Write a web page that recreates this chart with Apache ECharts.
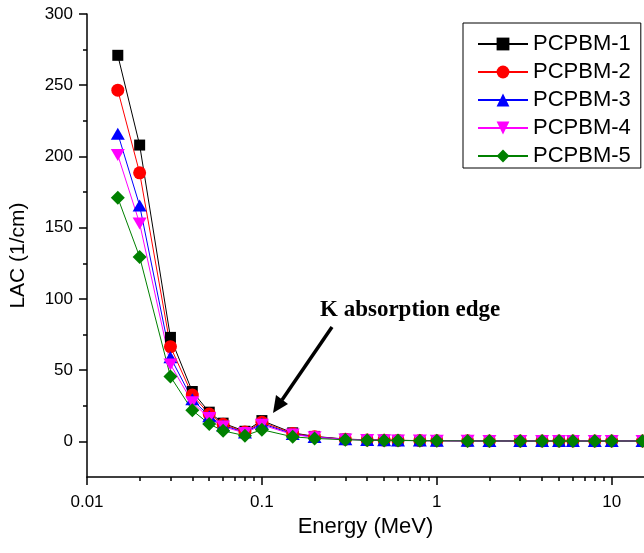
<!DOCTYPE html>
<html>
<head>
<meta charset="utf-8">
<script src="https://cdn.jsdelivr.net/npm/echarts@6/dist/echarts.min.js"></script>
<style>
  html, body { margin: 0; padding: 0; background: #fff; }
  #chart-wrapper { width: 644px; height: 553px; }
</style>
</head>
<body>
<div id="chart-wrapper"></div>
<script>
// photon energies (MeV)
const energies = [0.015, 0.02, 0.03, 0.04, 0.05, 0.06, 0.08, 0.1, 0.15, 0.2, 0.3, 0.4,
  0.5, 0.6, 0.8, 1, 1.5, 2, 3, 4, 5, 6, 8, 10, 15];

// linear attenuation coefficients (1/cm)
const pcpbm1 = [271, 208, 73, 35, 20.5, 12.8, 7.1, 14.6, 6.0, 3.5, 1.6, 1.1, 0.85, 0.72,
  0.58, 0.5, 0.4, 0.35, 0.3, 0.28, 0.27, 0.27, 0.27, 0.28, 0.3];
const pcpbm2 = [246.5, 188.5, 66.5, 32.5, 19.2, 12.0, 6.6, 13.5, 5.6, 3.3, 1.5, 1.05, 0.82,
  0.7, 0.56, 0.49, 0.39, 0.34, 0.29, 0.27, 0.26, 0.26, 0.26, 0.27, 0.29];
const pcpbm3 = [216, 165.5, 59, 29.5, 17.6, 11.2, 6.2, 12.5, 5.2, 3.1, 1.45, 1.0, 0.8, 0.68,
  0.55, 0.48, 0.38, 0.33, 0.28, 0.26, 0.25, 0.25, 0.25, 0.26, 0.28];
const pcpbm4 = [201, 153, 54, 27.5, 16.4, 10.4, 5.8, 11.6, 4.8, 2.9, 1.4, 0.97, 0.78, 0.66,
  0.54, 0.47, 0.37, 0.32, 0.27, 0.25, 0.24, 0.24, 0.24, 0.25, 0.27];
const pcpbm5 = [171, 129.5, 45.5, 21.8, 12.2, 7.4, 4.0, 8.2, 3.2, 2.1, 1.1, 0.85, 0.7, 0.6,
  0.5, 0.44, 0.35, 0.3, 0.26, 0.24, 0.23, 0.23, 0.23, 0.24, 0.26];

const seriesNames = ["PCPBM-1", "PCPBM-2", "PCPBM-3", "PCPBM-4", "PCPBM-5"];

// tick labels
const xMajorTicks = [0.01, 0.1, 1, 10];
const xMinorTicks = [0.02, 0.03, 0.04, 0.05, 0.06, 0.07, 0.08, 0.09,
  0.2, 0.3, 0.4, 0.5, 0.6, 0.7, 0.8, 0.9, 2, 3, 4, 5, 6, 7, 8, 9];
const yMajorTicks = [0, 50, 100, 150, 200, 250, 300];
const yMinorTicks = [25, 75, 125, 175, 225, 275];

const colorList = ["#000000", "#ff0000", "#0000ff", "#ff00ff", "#008000"];
const symbols = [
  { symbol: "rect", size: 11, rotate: 0 },
  { symbol: "circle", size: 13, rotate: 0 },
  { symbol: "triangle", size: [14, 12], rotate: 0 },
  { symbol: "triangle", size: [14, 12], rotate: 180 },
  { symbol: "diamond", size: [14, 14], rotate: 0 },
];

const chartDom = document.getElementById("chart-wrapper");
const chart = echarts.init(chartDom, null, { renderer: "canvas" });

const font = "Liberation Sans, Arial, sans-serif";
const allValues = [pcpbm1, pcpbm2, pcpbm3, pcpbm4, pcpbm5];

const seriesData = allValues.map((vals, i) => {
  return {
    name: seriesNames[i],
    type: "line",
    xAxisIndex: 0,
    yAxisIndex: 0,
    data: energies.map((e, k) => [e, vals[k]]),
    symbol: symbols[i].symbol,
    symbolSize: symbols[i].size,
    symbolRotate: symbols[i].rotate,
    showAllSymbol: true,
    clip: false,
    color: colorList[i],
    lineStyle: { width: 1, color: colorList[i] },
    itemStyle: { color: colorList[i] },
    emphasis: { disabled: true },
    animation: false,
  };
});

const axisLine = { show: true, onZero: false, lineStyle: { color: "#000", width: 1.5 } };

const option = {
  backgroundColor: "#fff",
  animation: false,
  grid: { left: 86, top: 14, right: 0, height: 463, containLabel: false },
  legend: {
    orient: "vertical",
    left: 463,
    top: 23,
    data: seriesNames,
    itemWidth: 50,
    itemHeight: 16,
    itemGap: 6,
    padding: [10, 10, 1, 14],
    borderColor: "#000",
    borderWidth: 1,
    backgroundColor: "#fff",
    selectedMode: false,
    textStyle: { fontFamily: font, fontSize: 22, color: "#000", lineHeight: 22 },
  },
  xAxis: [
    {
      type: "log",
      logBase: 10,
      min: 0.01,
      max: 15.3,
      name: "Energy (MeV)",
      nameLocation: "middle",
      nameGap: 34,
      nameTextStyle: { fontFamily: font, fontSize: 22, color: "#000" },
      axisLine: axisLine,
      axisTick: { show: true, inside: false, length: 8, customValues: xMajorTicks,
        lineStyle: { color: "#000", width: 1.5 } },
      axisLabel: { customValues: xMajorTicks, margin: 17, fontFamily: font, fontSize: 17,
        color: "#000", formatter: (v) => String(v) },
      splitLine: { show: false },
    },
    {
      type: "log",
      logBase: 10,
      min: 0.01,
      max: 15.3,
      position: "bottom",
      axisLine: { show: false, onZero: false },
      axisTick: { show: true, inside: false, length: 4, customValues: xMinorTicks,
        lineStyle: { color: "#000", width: 1.5 } },
      axisLabel: { show: false },
      splitLine: { show: false },
    },
  ],
  yAxis: [
    {
      type: "value",
      min: -25,
      max: 300,
      name: "LAC (1/cm)",
      nameLocation: "middle",
      nameGap: 58,
      nameTextStyle: { fontFamily: font, fontSize: 21, color: "#000", padding: [0, 20, 0, 0] },
      axisLine: axisLine,
      axisTick: { show: true, inside: false, length: 8, customValues: yMajorTicks,
        lineStyle: { color: "#000", width: 1.5 } },
      axisLabel: { customValues: yMajorTicks, margin: 14, fontFamily: font, fontSize: 17,
        color: "#000" },
      splitLine: { show: false },
    },
    {
      type: "value",
      min: -25,
      max: 300,
      position: "left",
      axisLine: { show: false, onZero: false },
      axisTick: { show: true, inside: false, length: 4, customValues: yMinorTicks,
        lineStyle: { color: "#000", width: 1.5 } },
      axisLabel: { show: false },
      splitLine: { show: false },
    },
  ],
  graphic: [
    {
      type: "text",
      left: 320,
      top: 299,
      style: {
        text: "K absorption edge",
        font: "bold 23px 'Liberation Serif', 'Times New Roman', serif",
        fill: "#000",
      },
    },
    {
      type: "line",
      shape: { x1: 332, y1: 327, x2: 282, y2: 400 },
      style: { stroke: "#000", lineWidth: 3.5 },
    },
    {
      type: "polygon",
      shape: { points: [[273, 413], [288, 404], [276, 395]] },
      style: { fill: "#000" },
    },
  ],
  series: seriesData,
};

option && chart.setOption(option);
</script>
</body>
</html>
